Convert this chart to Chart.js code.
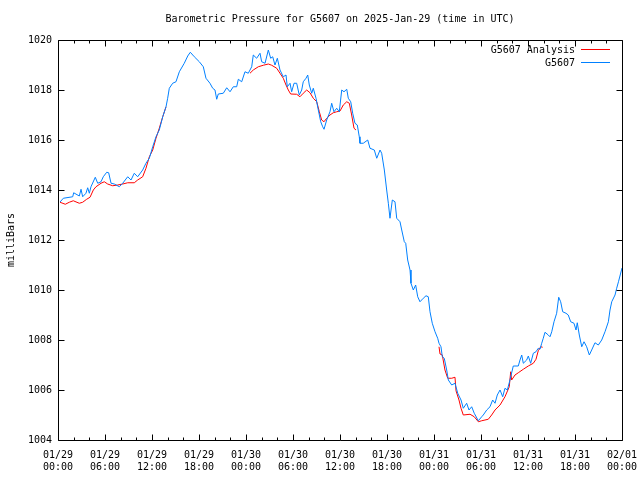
<!DOCTYPE html>
<html>
<head>
<meta charset="utf-8">
<script src="https://cdn.jsdelivr.net/npm/chart.js@4"></script>
<style>
  html, body { margin: 0; padding: 0; background: #fff; }
  #wrap { width: 640px; height: 480px; }
</style>
</head>
<body>
<div id="wrap"><canvas id="myChart" width="640" height="480"></canvas></div>
<script>
// hours since 01/29 00:00 UTC
const blueHours = [0.26,0.68,1.88,2.0,2.72,2.94,3.15,3.57,3.79,4.0,4.21,4.76,5.07,5.49,5.78,6.22,6.47,6.77,7.19,7.83,
  8.26,8.9,9.32,9.74,10.17,10.81,11.23,11.66,12.09,12.51,12.93,13.37,13.79,14.0,14.21,14.64,15.06,15.49,16.12,16.56,
  16.89,17.4,18.04,18.55,18.89,19.4,19.75,20.04,20.26,20.46,21.1,21.54,21.96,22.38,22.81,23.02,23.45,23.87,24.29,24.73,
  24.93,25.36,25.79,26.0,26.43,26.85,27.15,27.41,27.7,28.0,28.34,28.76,29.11,29.27,29.62,29.83,30.13,30.47,30.8,31.11,
  31.31,31.66,31.88,32.08,32.39,32.59,32.94,33.23,33.54,33.79,33.96,34.3,34.72,34.94,35.23,35.58,35.91,36.22,36.51,36.86,
  37.06,37.37,37.62,37.91,38.21,38.46,38.55,38.97,39.54,39.83,40.38,40.69,41.11,41.32,41.66,41.96,42.17,42.38,42.68,43.02,
  43.24,43.66,43.88,44.21,44.39,44.64,44.94,45.06,45.36,45.66,45.92,46.21,46.63,46.98,47.27,47.49,47.78,48.13,48.47,48.64,
  48.89,49.06,49.31,49.62,49.83,50.26,50.68,51.03,51.45,51.74,52.17,52.47,52.81,53.14,53.66,54.09,54.29,54.73,55.15,55.49,
  55.79,56.08,56.43,56.77,57.06,57.36,57.7,58.12,58.76,58.98,59.2,59.4,59.83,60.04,60.34,60.68,61.02,61.31,61.53,61.75,
  61.95,62.17,62.59,62.81,63.03,63.32,63.66,63.92,64.17,64.43,64.85,65.14,65.45,65.87,66.13,66.29,66.55,66.86,67.15,67.49,
  67.83,68.13,68.55,68.98,69.41,69.83,70.26,70.47,70.69,71.11,71.32,71.55,72.0];
const bluePressure = [1013.52,1013.67,1013.73,1013.89,1013.76,1014.03,1013.73,1013.87,1014.09,1013.87,1014.13,1014.51,1014.27,1014.33,1014.53,1014.71,1014.69,1014.27,1014.24,1014.13,
  1014.27,1014.53,1014.4,1014.67,1014.53,1014.8,1015.07,1015.27,1015.73,1016.13,1016.4,1016.93,1017.33,1017.67,1018.07,1018.27,1018.33,1018.73,1019.07,1019.36,
  1019.51,1019.33,1019.13,1018.93,1018.47,1018.27,1018.07,1018.0,1017.63,1017.84,1017.87,1018.09,1017.93,1018.13,1018.13,1018.43,1018.33,1018.73,1018.67,1018.93,
  1019.4,1019.27,1019.47,1019.13,1019.07,1019.6,1019.27,1019.33,1019.0,1019.27,1018.8,1018.53,1018.6,1018.13,1018.27,1017.93,1018.27,1018.27,1017.8,1018.0,
  1018.33,1018.47,1018.6,1018.2,1017.87,1018.07,1017.67,1017.2,1016.73,1016.53,1016.43,1016.8,1017.13,1017.47,1017.13,1017.27,1017.13,1018.0,1017.93,1018.03,
  1017.67,1017.53,1017.07,1016.67,1016.6,1016.13,1015.87,1015.87,1016.0,1015.67,1015.6,1015.27,1015.6,1015.47,1014.8,1014.0,1013.47,1012.87,1013.6,1013.53,
  1012.87,1012.73,1012.4,1011.93,1011.87,1011.2,1010.8,1010.27,1010.0,1010.2,1009.73,1009.53,1009.67,1009.77,1009.73,1009.13,1008.67,1008.33,1008.07,1007.87,
  1007.73,1007.33,1007.27,1006.8,1006.4,1006.2,1006.27,1005.87,1005.6,1005.27,1005.47,1005.2,1005.33,1005.07,1004.77,1004.93,1005.0,1005.2,1005.33,1005.6,
  1005.47,1005.8,1006.0,1005.73,1006.07,1006.0,1006.4,1006.96,1006.96,1007.2,1007.4,1007.07,1007.2,1007.36,1007.07,1007.47,1007.53,1007.67,1007.63,1007.87,
  1008.07,1008.31,1008.2,1008.13,1008.33,1008.73,1009.07,1009.71,1009.53,1009.13,1009.07,1009.0,1008.73,1008.67,1008.4,1008.69,1008.2,1007.73,1007.93,1007.73,
  1007.4,1007.6,1007.89,1007.8,1008.0,1008.33,1008.73,1009.2,1009.53,1009.8,1010.07,1010.33,1010.88];

// analysis series, null marks a gap
const redHours = [0.26,0.93,1.44,1.95,2.72,3.15,3.66,4.09,4.51,4.85,5.49,5.91,6.34,6.98,7.62,8.26,8.9,9.74,10.17,10.81,
  11.23,11.66,12.09,12.51,12.93,13.37,13.79,
  19.0,
  24.51,24.93,25.57,26.21,26.85,27.28,27.92,28.34,28.76,29.11,29.4,29.7,30.47,30.89,31.31,31.75,32.17,32.59,33.03,33.36,
  33.66,33.96,34.3,34.72,35.14,35.58,36.0,36.42,36.86,37.19,37.49,37.79,38.04,
  43.0,
  48.64,48.77,49.06,49.4,49.75,50.26,50.68,50.81,51.19,51.45,51.74,52.6,53.14,53.66,54.09,54.51,54.93,55.36,55.79,56.43,
  57.06,57.61,57.79,57.91,58.34,58.76,59.4,60.04,60.68,61.02,61.31,61.62,61.87];
const redPressure = [1013.51,1013.43,1013.51,1013.57,1013.47,1013.51,1013.63,1013.71,1014.0,1014.13,1014.27,1014.33,1014.24,1014.17,1014.2,1014.24,1014.29,1014.29,1014.4,1014.53,
  1014.87,1015.33,1015.6,1016.07,1016.47,1016.93,1017.33,
  null,
  1018.67,1018.8,1018.93,1018.99,1019.04,1018.99,1018.87,1018.67,1018.47,1018.2,1018.0,1017.84,1017.83,1017.73,1017.87,1018.0,1017.89,1017.67,1017.53,1017.13,
  1016.8,1016.73,1016.87,1017.0,1017.09,1017.13,1017.16,1017.4,1017.53,1017.47,1017.0,1016.47,1016.4,
  null,
  1007.73,1007.44,1007.4,1006.8,1006.47,1006.47,1006.51,1005.97,1005.6,1005.27,1005.0,1005.03,1004.93,1004.73,1004.77,1004.8,1004.83,1005.0,1005.2,1005.4,
  1005.73,1006.13,1006.73,1006.4,1006.6,1006.69,1006.83,1006.96,1007.07,1007.23,1007.57,1007.73,1007.71];

const tickDates = ['01/29','01/29','01/29','01/29','01/30','01/30','01/30','01/30','01/31','01/31','01/31','01/31','02/01'];
const tickTimes = ['00:00','06:00','12:00','18:00','00:00','06:00','12:00','18:00','00:00','06:00','12:00','18:00','00:00'];

const titleText = 'Barometric Pressure for G5607 on 2025-Jan-29 (time in UTC)';
const yLabel = 'milliBars';
const seriesNames = ['G5607 Analysis', 'G5607'];
const seriesColors = ['#ff0000', '#0080ff'];

const FONT = '10px "DejaVu Sans Mono", "Liberation Mono", monospace';

function toPoints(xs, ys) {
  return xs.map((x, i) => ({ x: x, y: ys[i] }));
}

// frame, inward ticks, title, axis label and legend, gnuplot style
const gnuplotDecor = {
  id: 'gnuplotDecor',
  afterDraw(chart) {
    const ctx = chart.ctx;
    const a = chart.chartArea;
    const xs = chart.scales.x;
    const ys = chart.scales.y;
    const L = Math.round(a.left) + 0.5, R = Math.round(a.right) + 0.5;
    const T = Math.round(a.top) + 0.5, B = Math.round(a.bottom) + 0.5;
    ctx.save();
    ctx.strokeStyle = '#000';
    ctx.lineWidth = 1;
    ctx.beginPath();
    ctx.rect(L, T, R - L, B - T);
    ctx.stroke();

    ctx.beginPath();
    for (let h = 0; h <= 72; h += 2) {
      const px = Math.round(xs.getPixelForValue(h)) + 0.5;
      const len = (h % 6 === 0) ? 6 : 3;
      ctx.moveTo(px, B); ctx.lineTo(px, B - len);
      ctx.moveTo(px, T); ctx.lineTo(px, T + len);
    }
    for (let v = 1004; v <= 1020; v += 2) {
      const py = Math.round(ys.getPixelForValue(v)) + 0.5;
      ctx.moveTo(L, py); ctx.lineTo(L + 6, py);
      ctx.moveTo(R, py); ctx.lineTo(R - 6, py);
    }
    ctx.stroke();

    ctx.fillStyle = '#000';
    ctx.font = FONT;
    ctx.textBaseline = 'middle';
    ctx.textAlign = 'center';
    ctx.fillText(titleText, (a.left + a.right) / 2, 19);

    ctx.save();
    ctx.translate(11, (a.top + a.bottom) / 2);
    ctx.rotate(-Math.PI / 2);
    ctx.fillText(yLabel, 0, 0);
    ctx.restore();

    // legend: text right aligned, then a line sample
    ctx.textAlign = 'right';
    for (let i = 0; i < seriesNames.length; i++) {
      const y = 50 + i * 13;
      ctx.fillText(seriesNames[i], 575, y);
      ctx.strokeStyle = seriesColors[i];
      ctx.beginPath();
      ctx.moveTo(581, y - 0.5);
      ctx.lineTo(610, y - 0.5);
      ctx.stroke();
    }
    ctx.restore();
  }
};

const ctx = document.getElementById('myChart').getContext('2d');
const myChart = new Chart(ctx, {
  type: 'line',
  data: {
    datasets: [{
      label: seriesNames[0],
      data: toPoints(redHours, redPressure),
      borderColor: seriesColors[0],
      borderWidth: 1,
      pointRadius: 0,
      tension: 0,
      spanGaps: false,
      order: 1
    }, {
      label: seriesNames[1],
      data: toPoints(blueHours, bluePressure),
      borderColor: seriesColors[1],
      borderWidth: 1,
      pointRadius: 0,
      tension: 0,
      order: 0
    }]
  },
  options: {
    responsive: false,
    animation: false,
    layout: { padding: { top: 40, right: 18, left: 0, bottom: 0 } },
    plugins: {
      legend: { display: false },
      title: { display: false },
      tooltip: { enabled: false }
    },
    scales: {
      x: {
        type: 'linear',
        min: 0,
        max: 72,
        afterFit: (scale) => {
          scale.height = 40;
          scale.paddingLeft = 0;
          scale.paddingRight = 0;
        },
        grid: { display: false, drawTicks: false },
        border: { display: false },
        ticks: {
          stepSize: 6,
          autoSkip: false,
          maxRotation: 0,
          padding: 10,
          color: '#000',
          font: { family: '"DejaVu Sans Mono", monospace', size: 10, lineHeight: 1.15 },
          callback: (value) => {
            const i = Math.round(value / 6);
            return [tickDates[i], tickTimes[i]];
          }
        }
      },
      y: {
        min: 1004,
        max: 1020,
        afterFit: (scale) => {
          scale.width = 58;
          scale.paddingTop = 0;
          scale.paddingBottom = 0;
        },
        grid: { display: false, drawTicks: false },
        border: { display: false },
        ticks: {
          stepSize: 2,
          padding: 6,
          color: '#000',
          font: { family: '"DejaVu Sans Mono", monospace', size: 10 },
          callback: (value) => String(value)
        }
      }
    }
  },
  plugins: [gnuplotDecor]
});
</script>
</body>
</html>
